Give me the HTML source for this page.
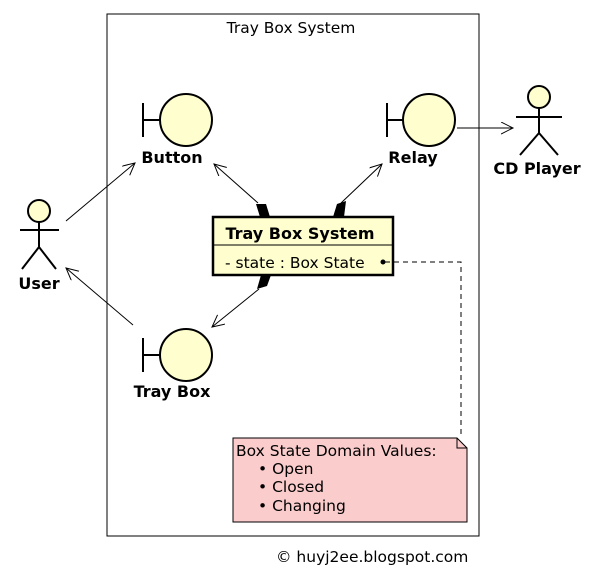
<!DOCTYPE html>
<html><head><style>body{margin:0;background:#fff}svg{display:block}text{font-family:"DejaVu Sans","Liberation Sans",sans-serif;fill:#000}</style></head><body>
<svg width="597" height="584" viewBox="0 0 597 584" xmlns="http://www.w3.org/2000/svg">
<defs><marker id="a" markerWidth="14" markerHeight="14" refX="12" refY="6" orient="auto" markerUnits="userSpaceOnUse"><path d="M0,0 L12,6 L0,12" fill="none" stroke="#000" stroke-width="1"/></marker></defs>
<rect x="107" y="14" width="372" height="522" fill="none" stroke="#000"/>
<text x="291" y="33" font-size="15.5" text-anchor="middle">Tray Box System</text>
<g stroke="#000" stroke-width="2" fill="#fefece">
<line x1="143" y1="103" x2="143" y2="137"/><line x1="143" y1="120" x2="160" y2="120"/><circle cx="186" cy="120" r="26"/>
<line x1="387" y1="103" x2="387" y2="137"/><line x1="387" y1="120" x2="403" y2="120"/><circle cx="429" cy="120" r="26"/>
<line x1="143" y1="338" x2="143" y2="372"/><line x1="143" y1="355" x2="160" y2="355"/><circle cx="186" cy="355" r="26"/>
<circle cx="39" cy="211" r="11"/><line x1="39" y1="222" x2="39" y2="247"/><line x1="20" y1="230" x2="59" y2="230"/><path d="M22,269 L39,247 L56,269" fill="none"/>
<circle cx="539" cy="97" r="11"/><line x1="539" y1="108" x2="539" y2="133"/><line x1="516" y1="117" x2="562" y2="117"/><path d="M520,155 L539,133 L558,155" fill="none"/>
</g>
<g font-size="16" font-weight="bold" text-anchor="middle">
<text x="172" y="163">Button</text><text x="413" y="163">Relay</text><text x="172" y="397">Tray Box</text>
<text x="39" y="289">User</text><text x="537" y="174">CD Player</text></g>
<g stroke="#000" stroke-width="1" fill="none" marker-end="url(#a)">
<line x1="66" y1="221" x2="135" y2="163"/><line x1="133" y1="325" x2="66" y2="268"/><line x1="457" y1="128" x2="513" y2="128"/>
<line x1="258" y1="203" x2="214" y2="164"/><line x1="341" y1="203" x2="382" y2="164"/><line x1="259" y1="289" x2="212" y2="327"/>
</g>
<g fill="#000"><path d="M256,204 L266,204 L270,217 L260,217 Z"/><path d="M333,217 L337,204 L346,201 L344,217 Z"/><path d="M261,275 L271,275 L267,286 L257,289 Z"/></g>
<rect x="213" y="217" width="180" height="58" fill="#fefece" stroke="#000" stroke-width="2.5"/>
<line x1="213" y1="245" x2="393" y2="245" stroke="#000"/>
<text x="300" y="239" font-size="16" font-weight="bold" text-anchor="middle">Tray Box System</text>
<text x="225" y="268" font-size="15.5">- state : Box State</text>
<circle cx="383" cy="262" r="2.5" fill="#000"/>
<path d="M385,262 H461 V438" fill="none" stroke="#000" stroke-dasharray="5,4"/>
<path d="M233,438 H457 L467,448 V522 H233 Z" fill="#fbcccc" stroke="#000"/>
<path d="M457,438 V448 H467" fill="none" stroke="#000"/>
<g font-size="15.5"><text x="236" y="456">Box State Domain Values:</text>
<text x="258" y="474">• Open</text><text x="258" y="492">• Closed</text><text x="258" y="511">• Changing</text>
<text x="276" y="562">© huyj2ee.blogspot.com</text></g>
</svg></body></html>
